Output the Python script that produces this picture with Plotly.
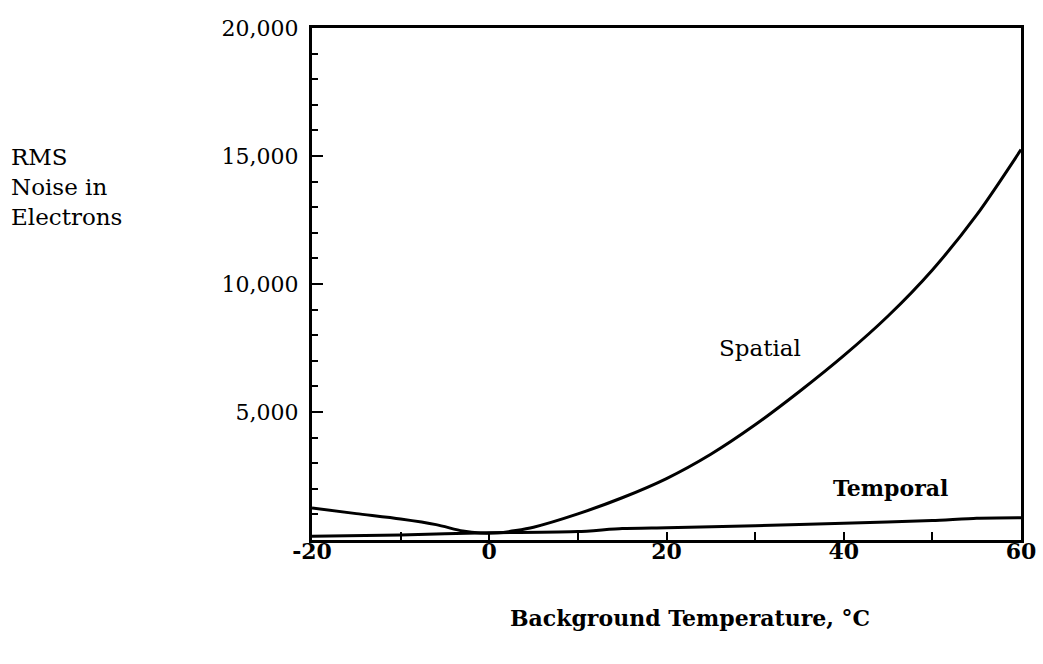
import plotly.graph_objects as go

# Data
spatial_x = [-20, -15, -10, -6, -3, -1, 1, 3, 5, 10, 15, 20, 25, 30, 35, 40, 45, 50, 55, 60]
spatial_y = [1250, 1030, 820, 600, 350, 270, 280, 370, 500, 1020, 1650, 2400, 3350, 4500, 5800, 7200, 8750, 10550, 12700, 15250]

temporal_x = [-20, -10, 0, 10, 15, 20, 30, 40, 50, 55, 60]
temporal_y = [150, 200, 280, 330, 450, 480, 560, 650, 760, 850, 870]

x_tickvals = [-20, 0, 20, 40, 60]
x_ticktext = ["-20", "0", "20", "40", "60"]
y_tickvals = [5000, 10000, 15000, 20000]
y_ticktext = ["5,000", "10,000", "15,000", "20,000"]

FONT = "DejaVu Serif"

fig = go.Figure()
fig.add_trace(go.Scatter(x=spatial_x, y=spatial_y, mode="lines", name="Spatial",
                         line=dict(color="black", width=3, shape="spline", smoothing=0.8),
                         cliponaxis=False))
fig.add_trace(go.Scatter(x=temporal_x, y=temporal_y, mode="lines", name="Temporal",
                         line=dict(color="black", width=3, shape="spline", smoothing=0.6),
                         cliponaxis=False))

fig.add_annotation(x=30.6, y=7500, text="Spatial", showarrow=False,
                   font=dict(family=FONT, size=23, color="black"))
fig.add_annotation(x=45.3, y=2030, text="<b>Temporal</b>", showarrow=False,
                   font=dict(family=FONT, size=22, color="black"))
fig.add_annotation(xref="paper", yref="paper", x=-0.427, y=0.69, xanchor="left", yanchor="middle",
                   text="RMS<br>Noise in<br>Electrons", align="left", showarrow=False,
                   font=dict(family=FONT, size=23, color="black"))
fig.add_annotation(xref="paper", yref="paper", x=0.533, y=-0.152, xanchor="center", yanchor="middle",
                   text="<b>Background Temperature, °C</b>", showarrow=False,
                   font=dict(family=FONT, size=22, color="black"))

fig.update_layout(
    width=1043, height=664,
    margin=dict(l=312, r=22, t=28, b=124),
    plot_bgcolor="white", paper_bgcolor="white",
    showlegend=False,
    font=dict(family=FONT, color="black"),
    xaxis=dict(range=[-20, 60], tickvals=x_tickvals, ticktext=x_ticktext,
               ticks="inside", ticklen=8, tickwidth=2, tickcolor="black",
               minor=dict(dtick=10, tick0=0, ticks="inside", ticklen=8, tickwidth=2, tickcolor="black"),
               showline=True, linewidth=3, linecolor="black", mirror=True,
               showgrid=False, zeroline=False, automargin=False,
               tickfont=dict(family=FONT, size=22, color="black", weight="bold"),
               ticklabelstandoff=-10),
    yaxis=dict(range=[0, 20000], tickvals=y_tickvals, ticktext=y_ticktext,
               ticks="inside", ticklen=11, tickwidth=2, tickcolor="black",
               minor=dict(dtick=1000, tick0=0, ticks="inside", ticklen=6, tickwidth=2, tickcolor="black"),
               showline=True, linewidth=3, linecolor="black", mirror=True,
               showgrid=False, zeroline=False, automargin=False,
               tickfont=dict(family=FONT, size=22, color="black"),
               ticklabelstandoff=6),
)

fig.write_html("out.html")
